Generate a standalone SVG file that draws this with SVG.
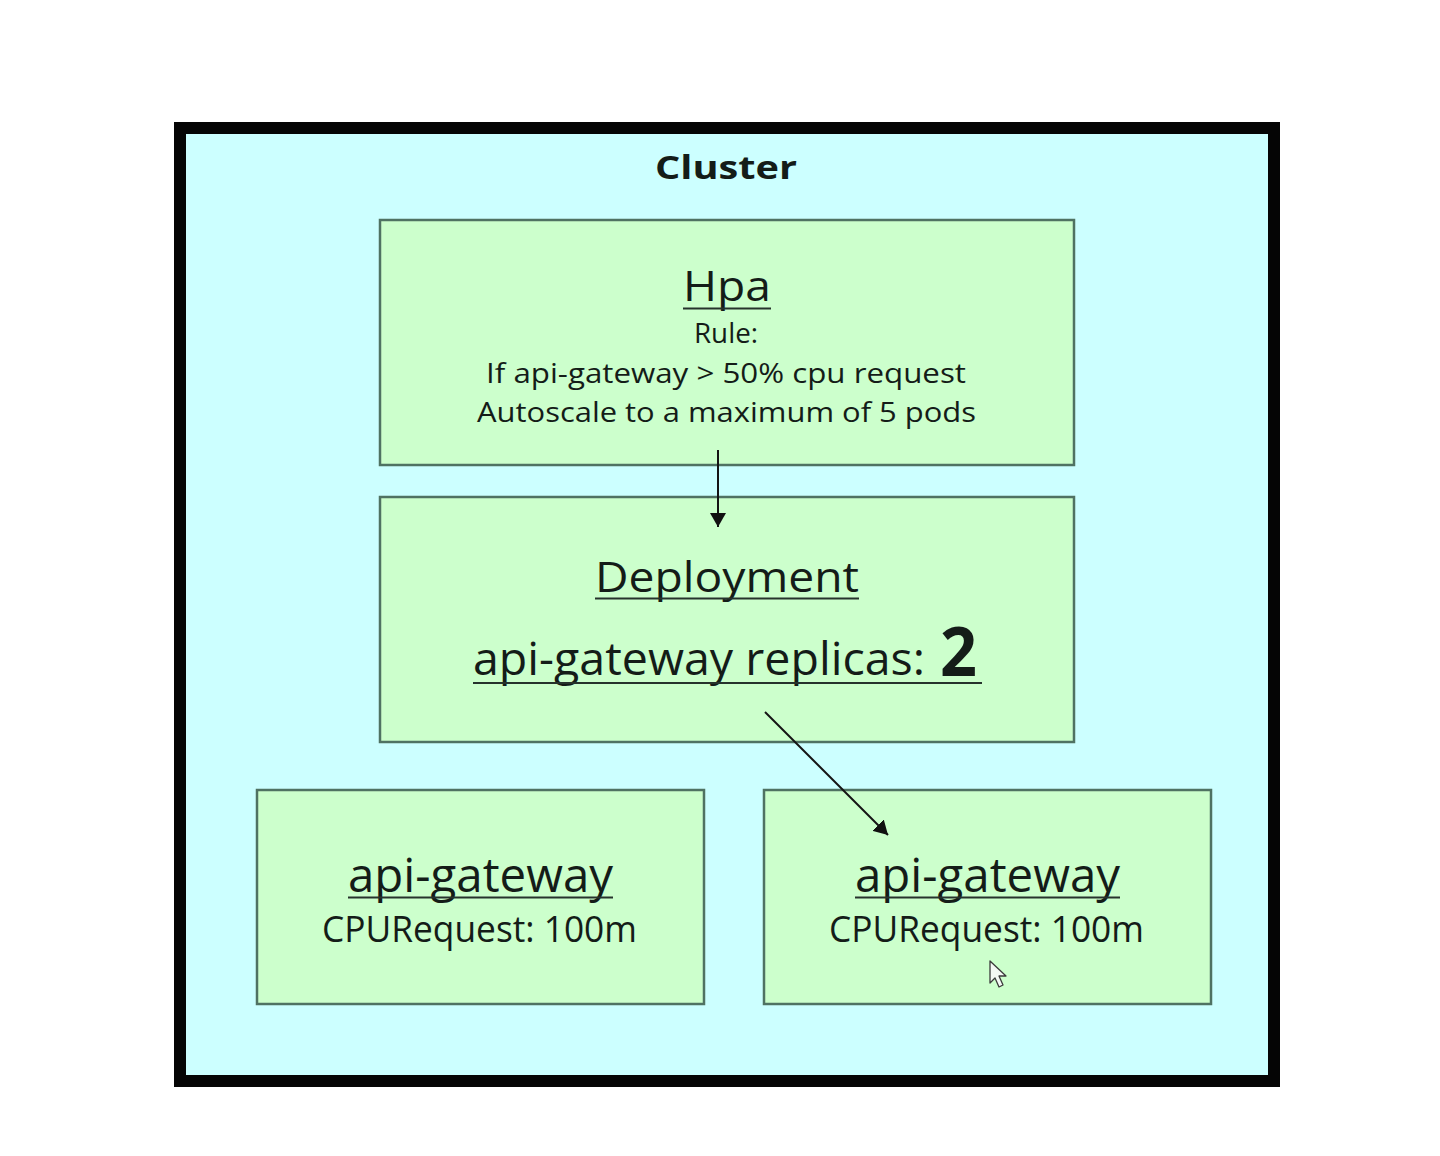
<svg xmlns="http://www.w3.org/2000/svg" width="1440" height="1156" viewBox="0 0 1440 1156">
<defs>
<style>
.box{fill:#ccffcc;stroke:#4f7262;stroke-width:2.5}
.t{font-family:"Open Sans","Liberation Sans",sans-serif;fill:#141c18}
.ul{stroke:#26332c;stroke-width:2.2}
.conn{stroke:#141414;stroke-width:2;fill:none}
</style>
<marker id="ah" viewBox="0 0 14 16" refX="14" refY="8" markerWidth="14" markerHeight="16" markerUnits="userSpaceOnUse" orient="auto">
<path d="M0,0 L14,8 L0,16 Z" fill="#111"/>
</marker>
</defs>
<rect width="1440" height="1156" fill="#ffffff"/>
<g id="cluster">
<rect x="180" y="128" width="1094" height="953" fill="#ccffff" stroke="#050505" stroke-width="12"/>
<text class="t" x="655" y="179" font-size="33" font-weight="bold" textLength="142" lengthAdjust="spacingAndGlyphs">Cluster</text>
</g>
<g id="hpa">
<rect class="box" x="380" y="220" width="694" height="245"/>
<text class="t" x="683" y="301" font-size="42" textLength="88" lengthAdjust="spacingAndGlyphs">Hpa</text>
<line class="ul" x1="683" y1="308.5" x2="771" y2="308.5"/>
<text class="t" x="694" y="343" font-size="27" textLength="64" lengthAdjust="spacingAndGlyphs">Rule:</text>
<text class="t" x="486" y="383" font-size="27" textLength="480" lengthAdjust="spacingAndGlyphs">If api-gateway &gt; 50% cpu request</text>
<text class="t" x="477" y="422" font-size="27" textLength="499" lengthAdjust="spacingAndGlyphs">Autoscale to a maximum of 5 pods</text>
</g>
<g id="deployment">
<rect class="box" x="380" y="497" width="694" height="245"/>
<text class="t" x="595" y="592" font-size="42" textLength="264" lengthAdjust="spacingAndGlyphs">Deployment</text>
<line class="ul" x1="595" y1="598.5" x2="859" y2="598.5"/>
<text class="t" x="473" y="675" font-size="45" textLength="452" lengthAdjust="spacingAndGlyphs">api-gateway replicas:</text>
<text class="t" x="940" y="676" font-size="68" font-weight="bold" textLength="37" lengthAdjust="spacingAndGlyphs">2</text>
<line class="ul" x1="473" y1="683" x2="982" y2="683"/>
</g>
<g id="pod1">
<rect class="box" x="257" y="790" width="447" height="214"/>
<text class="t" x="348" y="892" font-size="47" textLength="265" lengthAdjust="spacingAndGlyphs">api-gateway</text>
<line class="ul" x1="348" y1="897.5" x2="613" y2="897.5"/>
<text class="t" x="322" y="942" font-size="37" textLength="315" lengthAdjust="spacingAndGlyphs">CPURequest: 100m</text>
</g>
<g id="pod2">
<rect class="box" x="764" y="790" width="447" height="214"/>
<text class="t" x="855" y="892" font-size="47" textLength="265" lengthAdjust="spacingAndGlyphs">api-gateway</text>
<line class="ul" x1="855" y1="897.5" x2="1120" y2="897.5"/>
<text class="t" x="829" y="942" font-size="37" textLength="315" lengthAdjust="spacingAndGlyphs">CPURequest: 100m</text>
</g>
<g id="connectors">
<line class="conn" x1="718" y1="450" x2="718" y2="527" marker-end="url(#ah)"/>
<line class="conn" x1="765" y1="712" x2="888" y2="835" marker-end="url(#ah)"/>
</g>
<path d="M990,961 L990,983 L995,978 L999,987 L1003,985 L999,976 L1006,976 Z" fill="#f4f8f4" stroke="#3a3a3a" stroke-width="1.3" stroke-linejoin="round"/>
</svg>
